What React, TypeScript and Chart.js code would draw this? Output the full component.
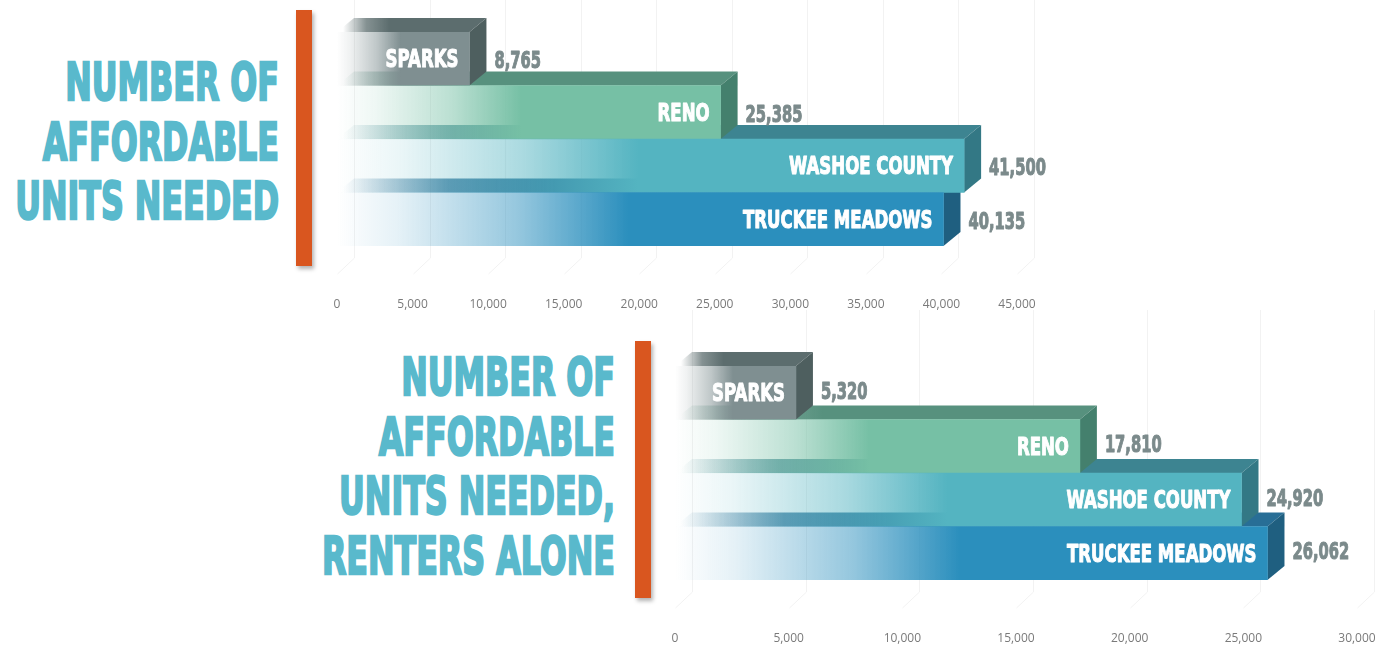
import React, { useEffect, useRef } from "react";
import { Chart, registerables } from "chart.js";

Chart.register(...registerables);

const categories = ["SPARKS", "RENO", "WASHOE COUNTY", "TRUCKEE MEADOWS"];
const unitsNeeded = [8765, 25385, 41500, 40135];
const unitsNeededRenters = [5320, 17810, 24920, 26062];
const titleAll = ["NUMBER OF", "AFFORDABLE", "UNITS NEEDED"];
const titleRenters = ["NUMBER OF", "AFFORDABLE", "UNITS NEEDED,", "RENTERS ALONE"];

// [red, green, blue] per region for the front, top and side faces of each bar
const frontRgb = ["127,143,145", "118,192,165", "84,180,193", "43,143,189"];
const topRgb = ["92,109,110", "87,145,126", "61,132,145", "40,110,150"];
const sideRgb = ["78,95,95", "68,128,109", "51,120,133", "31,95,128"];

const DEPTH_X = 17;
const DEPTH_Y = 14;
const HEAVY = '"DejaVu Sans", sans-serif';

// Draws one line of bold text squeezed horizontally into a compressed look
function squeezed(ctx: any, text: string, x: number, y: number, squeeze: number, color: string, weight: number) {
  ctx.save();
  ctx.translate(x, y);
  ctx.scale(squeeze, 1);
  ctx.fillStyle = color;
  ctx.strokeStyle = color;
  ctx.lineWidth = weight;
  ctx.strokeText(text, 0, 0);
  ctx.fillText(text, 0, 0);
  ctx.restore();
}

const prism = {
  id: "prism",
  beforeDatasetsDraw(chart: any) {
    const { ctx, chartArea, scales } = chart;
    ctx.save();
    // Faint back-wall gridlines with a slanted foot
    ctx.strokeStyle = "#f2f2f2";
    ctx.lineWidth = 1;
    scales.x.ticks.forEach((t: any) => {
      const x = Math.round(scales.x.getPixelForValue(t.value)) + 0.5;
      ctx.beginPath();
      ctx.moveTo(x + DEPTH_X, 0);
      ctx.lineTo(x + DEPTH_X, chartArea.bottom + 12);
      ctx.lineTo(x, chartArea.bottom + 28);
      ctx.stroke();
    });
    // Back faces run bottom bar first so upper bars sit in front
    const bars = chart.getDatasetMeta(0).data;
    for (let i = bars.length - 1; i >= 0; i--) {
      const b = bars[i];
      const top = b.y - b.height / 2;
      const bottom = b.y + b.height / 2;
      const x0 = b.base;
      const x1 = b.x;
      const g = ctx.createLinearGradient(x0 + 6, 0, x0 + 6 + (x1 - x0) * 0.35, 0);
      g.addColorStop(0, `rgba(${topRgb[i]},0)`);
      g.addColorStop(0.5, `rgba(${topRgb[i]},0.75)`);
      g.addColorStop(1, `rgba(${topRgb[i]},1)`);
      ctx.fillStyle = g;
      ctx.beginPath();
      ctx.moveTo(x0, top);
      ctx.lineTo(x0 + DEPTH_X, top - DEPTH_Y);
      ctx.lineTo(x1 + DEPTH_X, top - DEPTH_Y);
      ctx.lineTo(x1, top);
      ctx.closePath();
      ctx.fill();
      ctx.fillStyle = `rgb(${sideRgb[i]})`;
      ctx.beginPath();
      ctx.moveTo(x1, top);
      ctx.lineTo(x1 + DEPTH_X, top - DEPTH_Y);
      ctx.lineTo(x1 + DEPTH_X, bottom - DEPTH_Y);
      ctx.lineTo(x1, bottom);
      ctx.closePath();
      ctx.fill();
    }
    ctx.restore();
  },
  afterDatasetsDraw(chart: any, _args: any, opts: any) {
    const { ctx } = chart;
    const values = chart.data.datasets[0].data;
    const bars = chart.getDatasetMeta(0).data;
    ctx.save();
    ctx.lineJoin = "round";
    ctx.textBaseline = "middle";
    bars.forEach((b: any, i: number) => {
      ctx.font = `bold 24px ${HEAVY}`;
      ctx.textAlign = "right";
      squeezed(ctx, chart.data.labels[i], b.x - 11, b.y + 2.5, 0.69, "#ffffff", 1.1);
      ctx.font = `bold 23px ${HEAVY}`;
      ctx.textAlign = "left";
      squeezed(ctx, values[i].toLocaleString("en-US"), b.x + 25, b.y + opts.valueDrop, 0.64, "#7b8a8b", 1.1);
    });
    ctx.restore();
  },
};

type PanelProps = {
  values: number[];
  max: number;
  step: number;
  left: number;
  top: number;
  width: number;
  height: number;
  padLeft: number;
  padRight: number;
  padTop: number;
  valueDrop: number;
};

function Panel({ values, max, step, left, top, width, height, padLeft, padRight, padTop, valueDrop }: PanelProps) {
  const ref = useRef<HTMLCanvasElement>(null);
  useEffect(() => {
    const chart = new Chart(ref.current!, {
      type: "bar",
      plugins: [prism],
      data: {
        labels: categories,
        datasets: [
          {
            data: values,
            barPercentage: 1,
            categoryPercentage: 1,
            backgroundColor: (c: any) => {
              const rgb = frontRgb[c.dataIndex ?? 0];
              const x = c.chart.scales?.x;
              if (!x || !c.chart.chartArea || c.parsed === undefined) return `rgb(${rgb})`;
              const x0 = x.getPixelForValue(0);
              const x1 = x.getPixelForValue(values[c.dataIndex]);
              const g = c.chart.ctx.createLinearGradient(x0, 0, x1, 0);
              g.addColorStop(0, `rgba(${rgb},0)`);
              g.addColorStop(0.1, `rgba(${rgb},0.12)`);
              g.addColorStop(0.3, `rgba(${rgb},0.5)`);
              g.addColorStop(0.48, `rgba(${rgb},1)`);
              g.addColorStop(1, `rgba(${rgb},1)`);
              return g;
            },
          },
        ],
      },
      options: {
        indexAxis: "y",
        animation: false,
        responsive: false,
        layout: { padding: { left: padLeft, right: padRight, top: padTop, bottom: 0 } },
        plugins: { legend: { display: false }, tooltip: { enabled: false }, prism: { valueDrop } },
        scales: {
          x: {
            min: 0,
            max,
            grid: { display: false },
            border: { display: false },
            afterFit: (s: any) => {
              s.height = height - padTop - 214;
              s.paddingLeft = 0;
              s.paddingRight = 0;
            },
            ticks: {
              stepSize: step,
              padding: 43,
              maxRotation: 0,
              color: "#7a7a7a",
              font: { family: '"Open Sans", sans-serif', size: 12 },
              callback: (v: any) => Number(v).toLocaleString("en-US"),
            },
          },
          y: { display: false },
        },
      } as any,
    });
    return () => chart.destroy();
  }, []);
  return (
    <canvas
      ref={ref}
      width={width}
      height={height}
      style={{ position: "absolute", left, top, width, height }}
    />
  );
}

function Heading({ lines, right, top }: { lines: string[]; right: number; top: number }) {
  return (
    <div
      style={{
        position: "absolute",
        left: right - 700,
        width: 700,
        top,
        textAlign: "right",
        fontFamily: HEAVY,
        fontWeight: 700,
        fontSize: 52,
        lineHeight: "59.5px",
        color: "#59b9cc",
        WebkitTextStroke: "2.4px #59b9cc",
        whiteSpace: "nowrap",
        transform: "scaleX(0.61)",
        transformOrigin: "right center",
      }}
    >
      {lines.map((l) => (
        <div key={l}>{l}</div>
      ))}
    </div>
  );
}

function Rule({ left, top, height }: { left: number; top: number; height: number }) {
  return (
    <div
      style={{
        position: "absolute",
        left,
        top,
        width: 16,
        height,
        background: "#d9561f",
        boxShadow: "2px 3px 4px rgba(0,0,0,0.3)",
      }}
    />
  );
}

export default function App() {
  return (
    <div style={{ position: "absolute", left: 0, top: 0, width: 1384, height: 649, overflow: "hidden", background: "#fff" }}>
      <Panel values={unitsNeeded} max={45000} step={5000} left={300} top={0} width={760} height={320} padLeft={37} padRight={43} padTop={32} valueDrop={3.5} />
      <Panel values={unitsNeededRenters} max={30000} step={5000} left={640} top={310} width={744} height={339} padLeft={35} padRight={27} padTop={56} valueDrop={0} />
      <Heading lines={titleAll} right={279} top={53} />
      <Heading lines={titleRenters} right={615} top={348} />
      <Rule left={296} top={10} height={256} />
      <Rule left={635} top={341} height={257} />
    </div>
  );
}
